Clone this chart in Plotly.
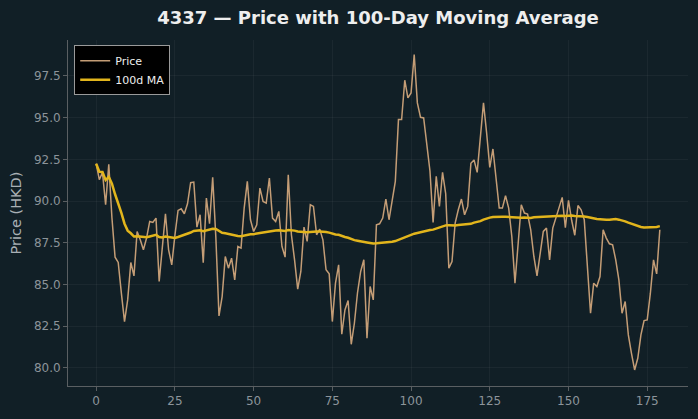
import plotly.graph_objects as go
import pandas as pd

days = list(range(180))
price = [
    92.24, 91.28, 91.72, 89.78, 92.20, 89.00, 86.64, 86.32, 84.48, 82.78,
    84.08, 86.32, 85.52, 88.18, 87.68, 87.08, 87.78, 88.78, 88.72, 88.98,
    85.18, 87.28, 89.24, 87.08, 86.18, 87.94, 89.44, 89.54, 89.24, 89.84,
    91.10, 91.14, 88.44, 89.18, 86.30, 90.18, 88.64, 91.42, 87.84, 83.12,
    84.28, 86.68, 85.98, 86.58, 85.28, 87.28, 87.18, 89.58, 91.18, 88.88,
    88.18, 88.58, 90.78, 89.98, 89.88, 91.38, 88.98, 88.78, 89.38, 87.28,
    86.64, 91.58, 87.98, 86.48, 84.72, 85.78, 88.44, 87.58, 89.78, 89.68,
    87.98, 88.32, 87.68, 85.88, 85.64, 82.78, 85.08, 86.18, 82.02, 83.48,
    84.04, 81.42, 82.68, 84.52, 85.78, 86.48, 81.78, 84.88, 84.08, 88.58,
    88.64, 88.98, 90.12, 88.88, 90.08, 91.18, 94.88, 94.88, 97.24, 96.18,
    96.48, 98.78, 95.88, 95.02, 94.98, 93.28, 91.80, 88.72, 91.48, 89.68,
    91.72, 90.44, 85.98, 86.38, 88.68, 89.48, 90.12, 89.18, 89.68, 92.26,
    92.46, 91.72, 93.98, 95.88, 94.08, 92.02, 93.12, 91.28, 89.58, 89.58,
    90.32, 89.58, 87.88, 85.08, 87.68, 89.78, 89.28, 89.22, 88.28, 86.68,
    85.52, 86.98, 88.18, 88.38, 86.48, 88.38, 88.98, 89.68, 90.22, 88.40,
    90.04, 88.85, 87.95, 89.73, 89.48, 88.88, 86.28, 83.28, 85.08, 84.88,
    85.48, 88.28, 87.78, 87.44, 87.38, 86.48, 85.28, 83.28, 83.98, 81.98,
    80.88, 79.88, 80.58, 81.98, 82.84, 82.88, 84.48, 86.48, 85.64, 88.28,
]
ma_window = 100
ma = pd.Series(price).rolling(ma_window, min_periods=1).mean().tolist()

x_ticks = [0, 25, 50, 75, 100, 125, 150, 175]
y_ticks = [80.0, 82.5, 85.0, 87.5, 90.0, 92.5, 95.0, 97.5]

BG = "#111f26"
GRID = "rgba(255,255,255,0.045)"
AXIS = "#5a5f62"
TICKTXT = "#8c949a"

fig = go.Figure()
fig.add_trace(go.Scatter(x=days, y=price, mode="lines", name="Price",
                         line=dict(color="#c49d76", width=1.5)))
fig.add_trace(go.Scatter(x=days, y=ma, mode="lines", name="100d MA",
                         line=dict(color="#e2b51c", width=2.5)))

fig.update_layout(
    width=698, height=419,
    paper_bgcolor=BG, plot_bgcolor=BG,
    margin=dict(l=68, r=10, t=40, b=33),
    font=dict(family="DejaVu Sans", color=TICKTXT),
    title=dict(text="<b>4337 — Price with 100-Day Moving Average</b>",
               x=378 / 698, xanchor="center", y=0.957, yanchor="middle",
               font=dict(size=18, color="#eeeeee", family="DejaVu Sans")),
    showlegend=True,
    legend=dict(x=0.01, y=0.985, xanchor="left", yanchor="top",
                bgcolor="#000000", bordercolor="#9a9a9a", borderwidth=1,
                font=dict(size=11, color="#eeeeee", family="DejaVu Sans"),
                tracegroupgap=0, itemwidth=30),
)
fig.update_xaxes(range=[-8.95, 187.95], tickvals=x_ticks,
                 ticktext=[str(v) for v in x_ticks],
                 showgrid=True, gridcolor=GRID, gridwidth=1, zeroline=False,
                 showline=True, linecolor=AXIS, linewidth=1,
                 ticks="outside", ticklen=4, tickcolor=AXIS,
                 tickfont=dict(size=12, color=TICKTXT))
fig.update_yaxes(range=[78.92, 99.65], tickvals=y_ticks,
                 ticktext=[f"{v:.1f}" for v in y_ticks],
                 showgrid=True, gridcolor=GRID, gridwidth=1, zeroline=False,
                 showline=True, linecolor=AXIS, linewidth=1,
                 ticks="outside", ticklen=4, tickcolor=AXIS,
                 tickfont=dict(size=12, color=TICKTXT),
                 title=dict(text="Price (HKD)", font=dict(size=14.5, color="#a9b0b5"),
                            standoff=8))

fig.write_html("out.html")
